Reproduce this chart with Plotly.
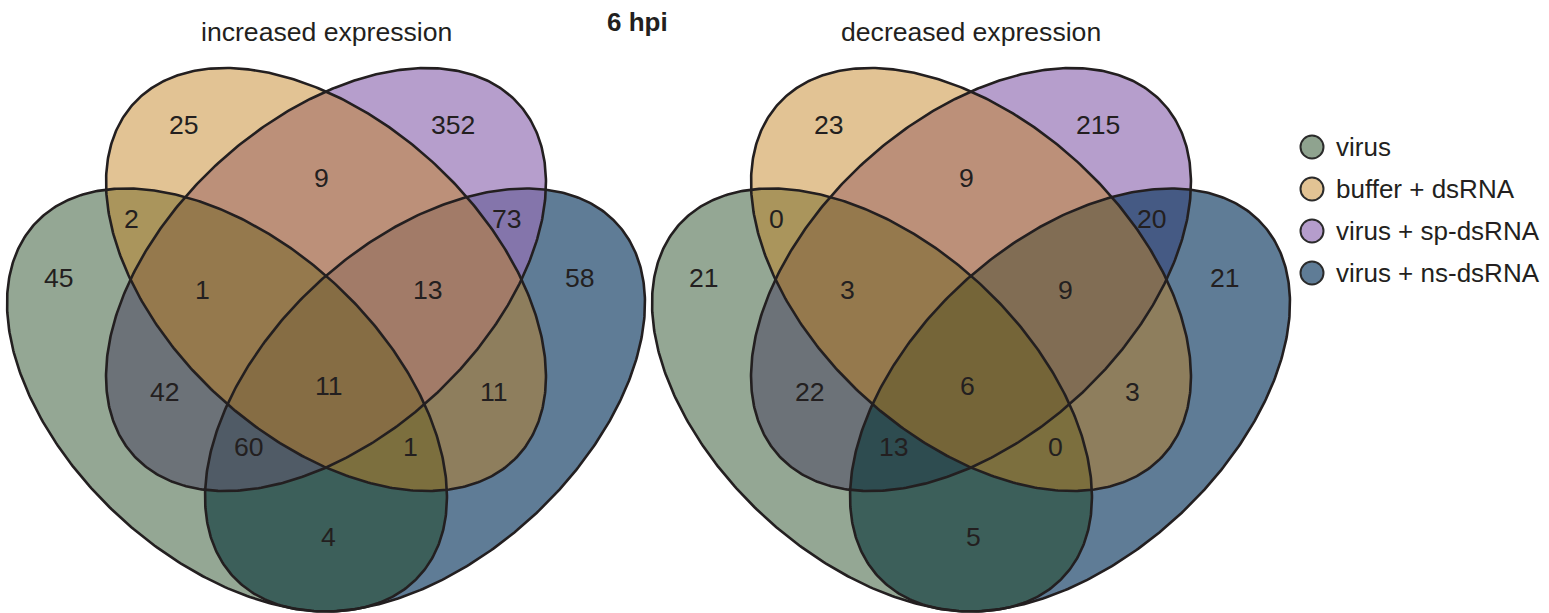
import numpy as np
import plotly.graph_objects as go

# ---------------- data ----------------
set_names = ["virus", "buffer + dsRNA", "virus + sp-dsRNA", "virus + ns-dsRNA"]
main_title = "6 hpi"
panel_titles = ["increased expression", "decreased expression"]

# region keys: G = virus, T = buffer + dsRNA, P = virus + sp-dsRNA, B = virus + ns-dsRNA
region_keys = ["T", "P", "TP", "GT", "PB", "G", "B", "GTP", "TPB",
               "GP", "GTPB", "TB", "GPB", "GTB", "GB"]
increased_counts = [25, 352, 9, 2, 73, 45, 58, 1, 13, 42, 11, 11, 60, 1, 4]
decreased_counts = [23, 215, 9, 0, 20, 21, 21, 3, 9, 22, 6, 3, 13, 0, 5]

# ---------------- style / layout ----------------
W, H = 1549, 613
INK = "#231f20"
FONT = "Liberation Sans, Arial, Helvetica, sans-serif"

legend_colors = {"G": "rgb(143,163,143)", "T": "rgb(226,195,148)",
                 "P": "rgb(181,157,204)", "B": "rgb(95,124,150)"}

# fill layers (colour, alpha) used for compositing
layer_fill = {
    "B_base": "rgba(95,124,150,1)",
    "P_base": "rgba(182,158,204,1)",
    "P_top": "rgba(149,115,181,0.69)",
    "B_top": "rgba(9,54,94,0.65)",
    "G": "rgba(18,60,18,0.45)",
    "T": "rgba(195,130,32,0.48)",
}
# drawing order per panel (bottom -> top)
panel_layers = [
    [("B", "B_base"), ("P", "P_top"), ("G", "G"), ("T", "T")],
    [("P", "P_base"), ("B", "B_top"), ("G", "G"), ("T", "T")],
]

panel_cx = [326, 971]
CY = 279.5
A_AX, B_AX, STRETCH = 255.4, 155.7, 1.04
ellipse_geom = {  # model centre offset, rotation (screen coords, y down)
    "G": (-95.2, 120.5, 45),
    "T": (0.0, 0.0, 45),
    "P": (0.0, 0.0, -45),
    "B": (95.2, 120.5, -45),
}

# label anchor (left edge of text, centre y) relative to panel centre
label_pos = {
    "T": (-159.5, -155), "P": (103, -155), "TP": (-14.3, -102), "GT": (-204, -61),
    "PB": (163.5, -61), "G": (-284, -1.5), "B": (237, -1.5), "GTP": (-133.5, 10.5),
    "TPB": (85, 10.5), "GP": (-178.5, 112), "GTPB": (-13, 106.5), "TB": (152, 112),
    "GPB": (-94, 167), "GTB": (75, 167), "GB": (-7, 257),
}


def ellipse_xy(cx0, key, n=500):
    dx, dy, ang = ellipse_geom[key]
    t = np.linspace(0, 2 * np.pi, n)
    th = np.deg2rad(ang)
    x = A_AX * np.cos(t) * np.cos(th) - B_AX * np.sin(t) * np.sin(th)
    y = A_AX * np.cos(t) * np.sin(th) + B_AX * np.sin(t) * np.cos(th)
    return cx0 + STRETCH * (dx + x), CY + dy + y


fig = go.Figure()

for p, cx0 in enumerate(panel_cx):
    # fills
    for key, lay in panel_layers[p]:
        x, y = ellipse_xy(cx0, key)
        fig.add_trace(go.Scatter(x=x, y=y, mode="lines", fill="toself",
                                 fillcolor=layer_fill[lay], line=dict(width=0),
                                 hoverinfo="skip", showlegend=False))
    # outlines
    for key in ["G", "T", "P", "B"]:
        x, y = ellipse_xy(cx0, key)
        fig.add_trace(go.Scatter(x=x, y=y, mode="lines",
                                 line=dict(color=INK, width=2.6),
                                 hoverinfo="skip", showlegend=False))

annotations = []
for p, (cx0, counts) in enumerate(zip(panel_cx, [increased_counts, decreased_counts])):
    for key, val in zip(region_keys, counts):
        lx, ly = label_pos[key]
        annotations.append(dict(x=cx0 + lx, y=CY + ly, text=str(val), showarrow=False,
                                xanchor="left", yanchor="middle",
                                font=dict(family=FONT, size=26.6, color=INK)))
    annotations.append(dict(x=cx0, y=32, text=panel_titles[p], showarrow=False,
                            xanchor="center", yanchor="middle",
                            font=dict(family=FONT, size=26.6, color=INK)))

annotations.append(dict(x=637, y=22, text="<b>" + main_title + "</b>", showarrow=False,
                        xanchor="center", yanchor="middle",
                        font=dict(family=FONT, size=26, color=INK)))

# legend
leg_y = [147, 189, 231, 273]
leg_keys = ["G", "T", "P", "B"]
fig.add_trace(go.Scatter(x=[1312] * 4, y=leg_y, mode="markers",
                         marker=dict(size=23, color=[legend_colors[k] for k in leg_keys],
                                     line=dict(color="#2b2b2b", width=2)),
                         hoverinfo="skip", showlegend=False))
for name, yy in zip(set_names, leg_y):
    annotations.append(dict(x=1334, y=yy, text=name, showarrow=False,
                            xanchor="left", yanchor="middle",
                            font=dict(family=FONT, size=26, color=INK)))

fig.update_layout(
    width=W, height=H, autosize=False,
    margin=dict(l=0, r=0, t=0, b=0, pad=0),
    paper_bgcolor="white", plot_bgcolor="white",
    showlegend=False,
    xaxis=dict(range=[0, W], visible=False, fixedrange=True),
    yaxis=dict(range=[H, 0], visible=False, fixedrange=True),
    annotations=annotations,
)

fig.write_html("out.html")
